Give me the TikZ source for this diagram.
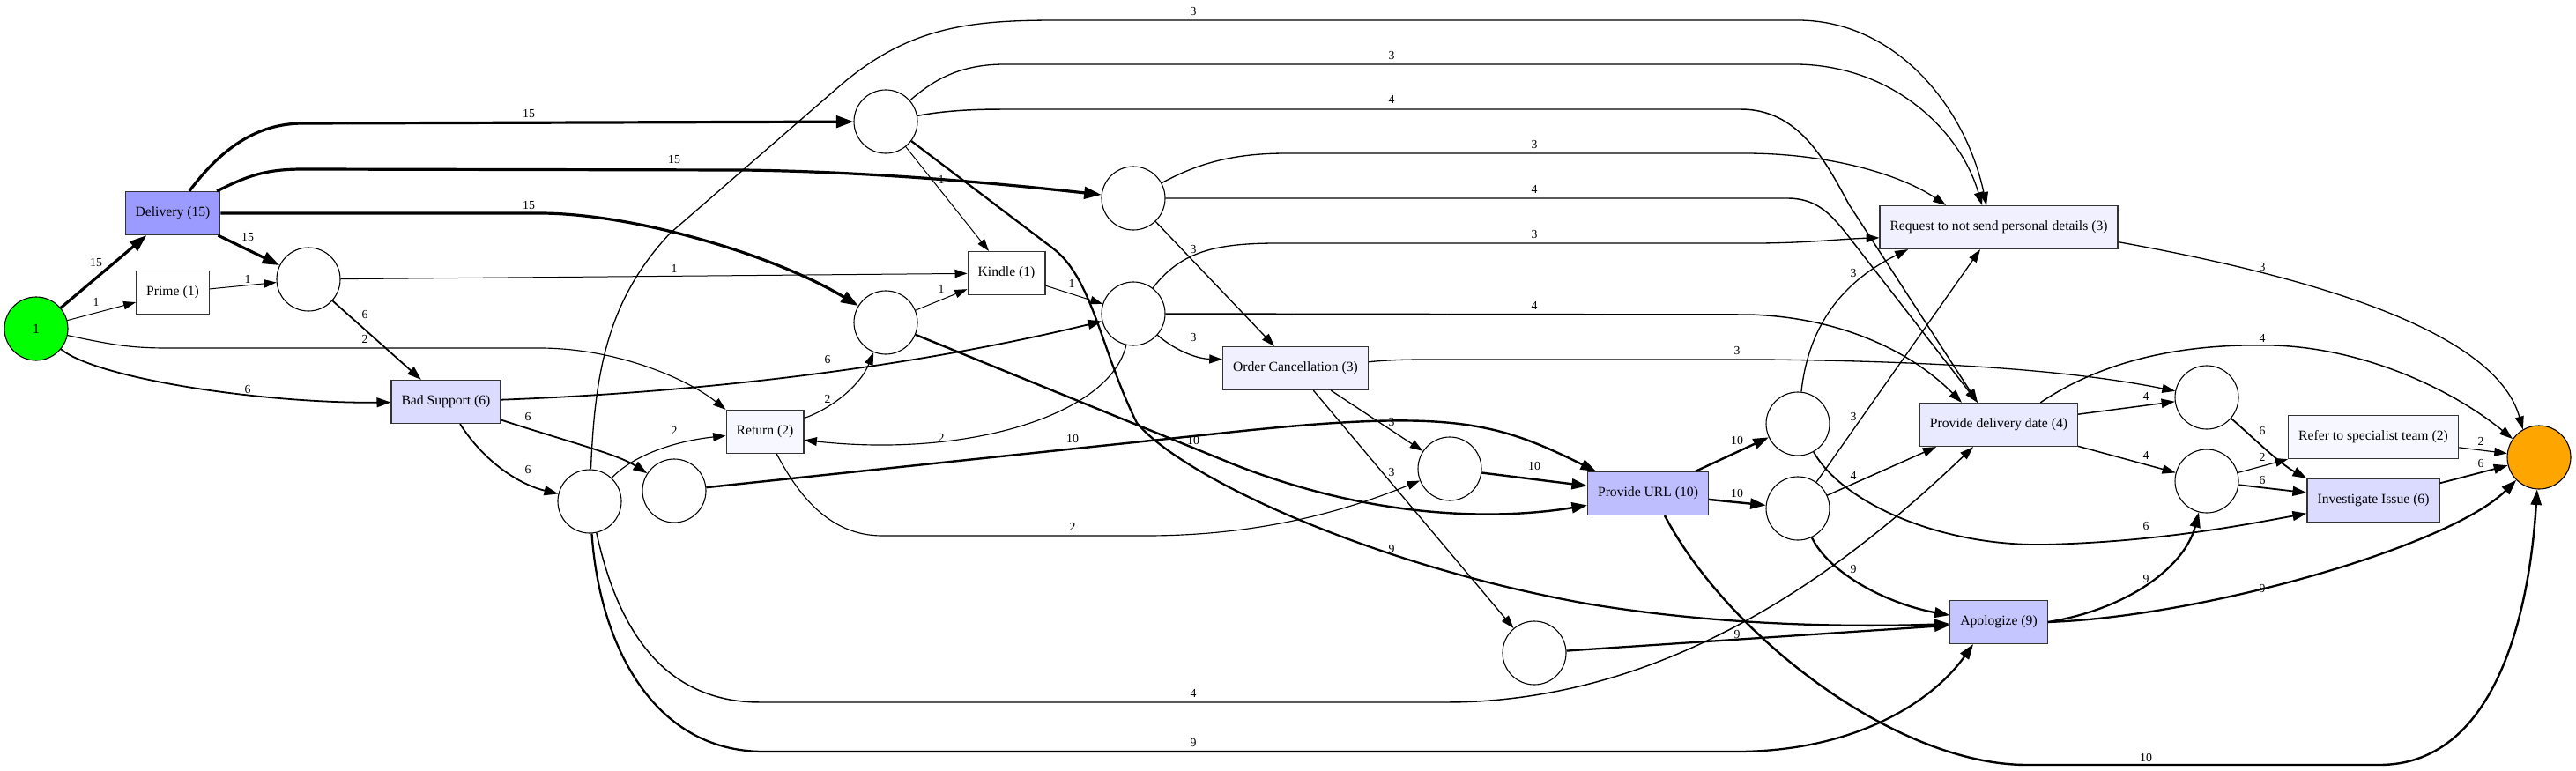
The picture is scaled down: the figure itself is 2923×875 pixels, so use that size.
\documentclass[tikz,border=0pt]{standalone}
\usepackage{fontspec}
\setmainfont{Liberation Serif}
\usepackage{xcolor}
\usepackage{tikz}
\usetikzlibrary{arrows.meta}
\definecolor{sourcegreen}{RGB}{0,255,0}
\definecolor{sinkorange}{RGB}{255,165,0}
\definecolor{heat15}{HTML}{9B9BFF}
\definecolor{heat10}{HTML}{BEBEFF}
\definecolor{heat9}{HTML}{C5C5FF}
\definecolor{heat6}{HTML}{DBDBFF}
\definecolor{heat4}{HTML}{E9E9FF}
\definecolor{heat3}{HTML}{F0F0FF}
\definecolor{heat2}{HTML}{F7F7FF}

\begin{document}
\begin{tikzpicture}[
    x=1pt, y=-1pt,
    place/.style={draw, circle, line width=1.1pt, minimum size=72pt, inner sep=0pt, font=\fontsize{15.66}{18}\selectfont},
    trans/.style={draw=black!80, line width=1.2pt, minimum height=49pt, inner xsep=11.5pt, font=\fontsize{15.66}{18}\selectfont},
    weight/.style={font=\fontsize{13.8}{16}\selectfont, inner sep=0pt},
    flow/.style={-{Triangle[length=11.5pt 2.5, width=7.5pt 1.9]}},
    flow1/.style={flow, line width=1pt},
    flow2/.style={flow, line width=1.16pt},
    flow3/.style={flow, line width=1.31pt},
    flow4/.style={flow, line width=1.47pt},
    flow6/.style={flow, line width=1.79pt},
    flow9/.style={flow, line width=2.26pt},
    flow10/.style={flow, line width=2.41pt},
    flow15/.style={flow, line width=3.2pt}
]
    \useasboundingbox (0,0) rectangle (2923,875);

    % Places
    \node[place, fill=sourcegreen] (src) at (41,373) {1};
    \node[place] (p1) at (350,317) {};
    \node[place] (pa) at (669,569) {};
    \node[place] (pb) at (765,557) {};
    \node[place] (pt) at (1005,138) {};
    \node[place] (pk) at (1005,366) {};
    \node[place] (pm) at (1286,225) {};
    \node[place] (pr) at (1286,356) {};
    \node[place] (pc) at (1645,532) {};
    \node[place] (pf) at (1741,741) {};
    \node[place] (pd) at (2040,481) {};
    \node[place] (pe) at (2040,577) {};
    \node[place] (pg) at (2504,451) {};
    \node[place] (ph) at (2504,546) {};
    \node[place, fill=sinkorange] (e) at (2881,519) {};

    % Transitions
    \node[trans, fill=heat15] (deliv) at (196,242) {Delivery (15)};
    \node[trans, fill=white] (prime) at (196,332) {Prime (1)};
    \node[trans, fill=heat6] (bad) at (506,456) {Bad Support (6)};
    \node[trans, fill=heat2] (ret) at (868,490) {Return (2)};
    \node[trans, fill=white] (kindle) at (1142,310) {Kindle (1)};
    \node[trans, fill=heat3] (oc) at (1470,418) {Order Cancellation (3)};
    \node[trans, fill=heat10] (url) at (1870,560) {Provide URL (10)};
    \node[trans, fill=heat3] (req) at (2268,258) {Request to not send personal details (3)};
    \node[trans, fill=heat4] (pdd) at (2268,482) {Provide delivery date (4)};
    \node[trans, fill=heat9] (apo) at (2268,706) {Apologize (9)};
    \node[trans, fill=heat2] (refer) at (2693,496) {Refer to specialist team (2)};
    \node[trans, fill=heat6] (inv) at (2693,568) {Investigate Issue (6)};

    % Arcs out of the source
    \draw[flow15] (src) -- (deliv) node[weight] at (109,298) {15};
    \draw[flow1] (src) -- (prime) node[weight] at (109,343) {1};
    \draw[flow2] (src) .. controls (130,392) and (150,395) .. (191,395) -- (612,395) .. controls (700,395) and (780,430) .. (ret.north west) node[weight] at (414,385) {2};
    \draw[flow6] (src) .. controls (110,430) and (300,458) .. (bad) node[weight] at (281,442) {6};

    % Delivery
    \draw[flow15] (deliv) .. controls (250,170) and (290,140) .. (344,140) -- (pt) node[weight] at (600,129) {15};
    \draw[flow15] (deliv) .. controls (280,200) and (300,192) .. (344,192) -- (843,193) .. controls (1000,195) and (1150,210) .. (pm) node[weight] at (765,181) {15};
    \draw[flow15] (deliv) -- (612,242) .. controls (720,242) and (880,290) .. (pk) node[weight] at (600,233) {15};
    \draw[flow15] (deliv) -- (p1) node[weight] at (281,269) {15};
    \draw[flow1] (prime) -- (p1) node[weight] at (281,317) {1};
    \draw[flow1] (p1) -- (kindle) node[weight] at (765,305) {1};
    \draw[flow6] (p1) -- (bad) node[weight] at (414,357) {6};

    % Bad Support
    \draw[flow6] (bad) .. controls (750,447) and (1000,425) .. (pr) node[weight] at (939,408) {6};
    \draw[flow6] (bad) .. controls (640,500) and (700,515) .. (pb) node[weight] at (599,473) {6};
    \draw[flow6] (bad) .. controls (550,525) and (590,550) .. (pa) node[weight] at (599,533) {6};

    % Lower left places
    \draw[flow2] (pa) .. controls (720,515) and (770,500) .. (ret) node[weight] at (765,489) {2};
    \draw[flow3] (pa) .. controls (675,420) and (690,340) .. (760,265) -- (950,100) .. controls (1030,30) and (1100,23) .. (1200,23) -- (2040,23) .. controls (2150,23) and (2230,120) .. ([xshift=-14pt]req.north) node[weight] at (1354,13) {3};
    \draw[flow4] (pa) .. controls (700,710) and (750,797) .. (863,797) -- (1640,797) .. controls (1900,797) and (2100,640) .. ([xshift=-29pt]pdd.south) node[weight] at (1354,787) {4};
    \draw[flow9] (pa) .. controls (680,730) and (740,853) .. (867,853) -- (1970,853) .. controls (2100,853) and (2190,800) .. ([xshift=-29pt]apo.south) node[weight] at (1354,843) {9};
    \draw[flow10] (pb) -- (1420,488) .. controls (1650,465) and (1700,480) .. ([xshift=-59pt]url.north) node[weight] at (1217,498) {10};

    % Return
    \draw[flow2] (ret) .. controls (940,465) and (975,440) .. (pk) node[weight] at (939,453) {2};
    \draw[flow2] (ret) .. controls (905,560) and (940,608) .. (1001,608) -- (1300,608) .. controls (1450,608) and (1550,570) .. (pc) node[weight] at (1217,598) {2};

    % Upper places
    \draw[flow3] (pt) .. controls (1060,90) and (1090,73) .. (1140,73) -- (2040,73) .. controls (2150,75) and (2225,150) .. ([xshift=-19pt]req.north) node[weight] at (1579,63) {3};
    \draw[flow4] (pt) .. controls (1070,126) and (1100,124) .. (1140,124) -- (1975,124) .. controls (2040,124) and (2070,180) .. (2098,232) -- ([xshift=-24pt]pdd.north) node[weight] at (1579,113) {4};
    \draw[flow1] (pt) -- (kindle) node[weight] at (1068,204) {1};
    \draw[flow9] (pt) -- (1195,282) .. controls (1240,316) and (1250,400) .. (1290,480) .. controls (1340,540) and (1550,640) .. (1800,685) .. controls (1950,710) and (2100,712) .. (apo) node[weight] at (1579,623) {9};
    \draw[flow3] (pm) .. controls (1360,185) and (1400,174) .. (1460,174) -- (1980,174) .. controls (2080,174) and (2160,200) .. ([xshift=-60pt]req.north) node[weight] at (1741,164) {3};
    \draw[flow4] (pm) -- (2030,225) .. controls (2060,226) and (2075,240) .. (2095,265) -- ([xshift=-24pt]pdd.north) node[weight] at (1741,215) {4};
    \draw[flow3] (pm) -- (oc) node[weight] at (1354,283) {3};

    % Kindle and its places
    \draw[flow1] (kindle) -- (pr) node[weight] at (1216,322) {1};
    \draw[flow1] (pk) -- (kindle) node[weight] at (1068,328) {1};
    \draw[flow10] (pk) -- (1400,527) .. controls (1560,590) and (1700,590) .. (url.191) node[weight] at (1354,500) {10};
    \draw[flow3] (pr) .. controls (1340,285) and (1380,276) .. (1450,276) -- (1990,276) .. controls (2050,276) and (2090,271) .. (req.185) node[weight] at (1741,266) {3};
    \draw[flow4] (pr) -- (1985,357) .. controls (2090,360) and (2170,400) .. ([xshift=-42pt]pdd.north) node[weight] at (1741,347) {4};
    \draw[flow3] (pr) .. controls (1330,395) and (1355,407) .. (oc.173) node[weight] at (1354,383) {3};
    \draw[flow2] (pr) .. controls (1260,470) and (1100,520) .. (ret.-12) node[weight] at (1068,497) {2};

    % Order Cancellation
    \draw[flow3] (oc.5) .. controls (1580,408) and (1600,408) .. (1640,408) -- (2000,408) .. controls (2200,410) and (2350,420) .. (pg) node[weight] at (1971,398) {3};
    \draw[flow3] (oc.-32) -- (pc) node[weight] at (1579,479) {3};
    \draw[flow3] (oc.-51) -- (pf) node[weight] at (1579,536) {3};

    % Provide URL
    \draw[flow10] (pc) -- (url) node[weight] at (1741,529) {10};
    \draw[flow9] (pf) -- (apo) node[weight] at (1971,720) {9};
    \draw[flow10] (url.25) -- (pd) node[weight] at (1971,500) {10};
    \draw[flow10] (url) -- (pe) node[weight] at (1971,560) {10};
    \draw[flow10] (url.-53) .. controls (1960,720) and (2150,868) .. (2300,868) -- (2700,868) .. controls (2830,868) and (2870,700) .. (e) node[weight] at (2435,860) {10};

    % Places after Provide URL
    \draw[flow3] (pd) .. controls (2052,370) and (2090,320) .. ([xshift=-103pt]req.south) node[weight] at (2103,310) {3};
    \draw[flow6] (pd) .. controls (2090,570) and (2200,620) .. (2320,618) .. controls (2450,615) and (2550,595) .. (inv.191) node[weight] at (2435,597) {6};
    \draw[flow3] (pe) -- ([xshift=-21pt]req.south) node[weight] at (2103,473) {3};
    \draw[flow4] (pe) -- ([xshift=-71pt]pdd.south) node[weight] at (2103,540) {4};
    \draw[flow9] (pe) .. controls (2075,650) and (2140,685) .. (apo.172) node[weight] at (2103,646) {9};

    % Towards the sink
    \draw[flow3] (req.-7) .. controls (2600,310) and (2830,370) .. (e.120) node[weight] at (2567,303) {3};
    \draw[flow4] (pdd) -- (pg) node[weight] at (2435,450) {4};
    \draw[flow4] (pdd) -- (ph) node[weight] at (2435,517) {4};
    \draw[flow4] (pdd.28) .. controls (2400,400) and (2500,390) .. (2580,392) .. controls (2680,395) and (2780,440) .. (e.145) node[weight] at (2567,384) {4};
    \draw[flow6] (pg) .. controls (2555,495) and (2585,525) .. (inv.north west) node[weight] at (2567,489) {6};
    \draw[flow2] (ph) -- (refer.south west) node[weight] at (2567,519) {2};
    \draw[flow6] (ph) -- (inv) node[weight] at (2567,545) {6};
    \draw[flow2] (refer) -- (e) node[weight] at (2815,501) {2};
    \draw[flow6] (inv) -- (e) node[weight] at (2815,526) {6};
    \draw[flow9] (apo.east) .. controls (2420,690) and (2480,640) .. (ph) node[weight] at (2435,657) {9};
    \draw[flow9] (apo.east) .. controls (2500,700) and (2780,620) .. (e) node[weight] at (2567,668) {9};
\end{tikzpicture}
\end{document}
